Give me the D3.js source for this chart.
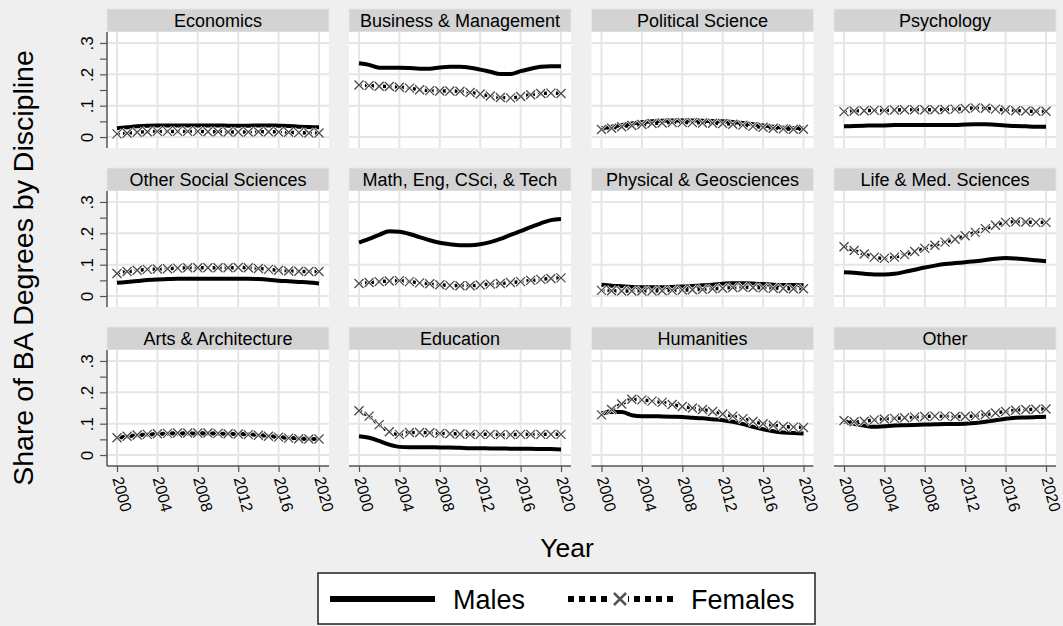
<!DOCTYPE html>
<html><head><meta charset="utf-8">
<script src="https://cdn.jsdelivr.net/npm/d3@7"></script>
<style>body{margin:0;background:#efefef;} text{font-family:"Liberation Sans",Arial,Helvetica,sans-serif;fill:#000;}</style>
</head><body><svg id="c" width="1063" height="626"></svg>
<script>
const years = [2000,2001,2002,2003,2004,2005,2006,2007,2008,2009,2010,2011,2012,2013,2014,2015,2016,2017,2018,2019,2020];
const disciplines = ["Economics","Business & Management","Political Science","Psychology",
  "Other Social Sciences","Math, Eng, CSci, & Tech","Physical & Geosciences","Life & Med. Sciences",
  "Arts & Architecture","Education","Humanities","Other"];
const yTickValues = [0,0.05,0.1,0.15,0.2,0.25,0.3];
const yTickLabels = ["0","",".1","",".2","",".3"];
const xTickValues = [2000,2004,2008,2012,2016,2020];

const econM = [0.028,0.031,0.034,0.036,0.037,0.037,0.037,0.037,0.037,0.037,0.037,0.036,0.036,0.036,0.037,0.037,0.036,0.035,0.033,0.032,0.031];
const econF = [0.010,0.012,0.015,0.017,0.018,0.018,0.018,0.018,0.018,0.017,0.017,0.016,0.016,0.016,0.017,0.017,0.016,0.015,0.014,0.013,0.013];
const busM  = [0.235,0.230,0.221,0.221,0.221,0.220,0.218,0.218,0.222,0.224,0.224,0.221,0.215,0.208,0.201,0.201,0.210,0.218,0.224,0.226,0.226];
const busF  = [0.166,0.164,0.162,0.161,0.159,0.156,0.151,0.148,0.147,0.147,0.146,0.142,0.137,0.131,0.126,0.125,0.129,0.135,0.139,0.140,0.139];
const polM  = [0.028,0.033,0.038,0.043,0.047,0.050,0.052,0.053,0.053,0.053,0.052,0.051,0.050,0.048,0.045,0.041,0.037,0.033,0.030,0.029,0.028];
const polF  = [0.024,0.028,0.033,0.037,0.040,0.043,0.045,0.046,0.046,0.046,0.045,0.044,0.043,0.041,0.038,0.034,0.031,0.028,0.026,0.025,0.025];
const psyM  = [0.034,0.035,0.036,0.037,0.037,0.038,0.038,0.038,0.038,0.038,0.038,0.038,0.040,0.041,0.041,0.039,0.037,0.035,0.034,0.033,0.033];
const psyF  = [0.081,0.083,0.084,0.085,0.085,0.086,0.087,0.087,0.087,0.087,0.088,0.089,0.091,0.093,0.092,0.089,0.086,0.084,0.083,0.082,0.082];
const ossM  = [0.042,0.045,0.048,0.051,0.053,0.054,0.055,0.055,0.055,0.055,0.055,0.055,0.055,0.055,0.054,0.052,0.049,0.047,0.045,0.043,0.040];
const ossF  = [0.072,0.078,0.082,0.085,0.086,0.087,0.089,0.090,0.090,0.090,0.090,0.090,0.091,0.090,0.088,0.085,0.082,0.080,0.079,0.078,0.078];
const mathM = [0.170,0.182,0.195,0.207,0.205,0.198,0.188,0.178,0.170,0.165,0.162,0.162,0.165,0.172,0.182,0.195,0.207,0.220,0.232,0.242,0.246];
const mathF = [0.040,0.043,0.046,0.048,0.049,0.046,0.042,0.039,0.036,0.034,0.033,0.033,0.035,0.038,0.040,0.043,0.046,0.050,0.053,0.056,0.058];
const physM = [0.036,0.033,0.031,0.029,0.028,0.028,0.028,0.029,0.030,0.032,0.034,0.036,0.039,0.041,0.041,0.040,0.038,0.036,0.035,0.035,0.034];
const physF = [0.018,0.017,0.016,0.016,0.016,0.016,0.017,0.018,0.019,0.020,0.021,0.023,0.025,0.027,0.028,0.027,0.026,0.025,0.024,0.023,0.023];
const lifeM = [0.076,0.074,0.071,0.069,0.069,0.071,0.077,0.084,0.091,0.097,0.102,0.105,0.108,0.111,0.115,0.119,0.121,0.120,0.117,0.114,0.111];
const lifeF = [0.157,0.145,0.134,0.124,0.120,0.124,0.132,0.142,0.152,0.162,0.172,0.181,0.192,0.203,0.215,0.226,0.235,0.237,0.236,0.235,0.235];
const artsM = [0.055,0.059,0.063,0.065,0.067,0.068,0.069,0.069,0.069,0.069,0.068,0.068,0.067,0.066,0.064,0.061,0.058,0.055,0.053,0.052,0.051];
const artsF = [0.055,0.060,0.064,0.066,0.068,0.069,0.070,0.070,0.070,0.070,0.069,0.068,0.067,0.065,0.063,0.060,0.057,0.054,0.052,0.051,0.051];
const eduM  = [0.060,0.055,0.045,0.033,0.026,0.025,0.025,0.025,0.024,0.024,0.023,0.022,0.022,0.021,0.021,0.020,0.020,0.020,0.019,0.019,0.018];
const eduF  = [0.141,0.124,0.097,0.074,0.066,0.072,0.072,0.071,0.069,0.068,0.067,0.066,0.066,0.066,0.065,0.065,0.066,0.066,0.066,0.066,0.066];
const humM  = [0.133,0.137,0.137,0.127,0.124,0.124,0.123,0.122,0.121,0.119,0.117,0.114,0.111,0.106,0.099,0.090,0.082,0.076,0.072,0.070,0.069];
const humF  = [0.128,0.145,0.163,0.178,0.176,0.172,0.168,0.161,0.155,0.150,0.145,0.139,0.131,0.124,0.116,0.107,0.100,0.095,0.091,0.089,0.088];
const othM  = [0.107,0.100,0.094,0.090,0.092,0.094,0.095,0.096,0.097,0.098,0.099,0.099,0.100,0.102,0.106,0.111,0.116,0.119,0.120,0.121,0.122];
const othF  = [0.110,0.106,0.108,0.112,0.115,0.117,0.119,0.121,0.123,0.124,0.124,0.123,0.123,0.125,0.129,0.134,0.139,0.143,0.145,0.146,0.147];

const maleSeries = [econM,busM,polM,psyM,ossM,mathM,physM,lifeM,artsM,eduM,humM,othM];
const femaleSeries = [econF,busF,polF,psyF,ossF,mathF,physF,lifeF,artsF,eduF,humF,othF];

const svg = d3.select("#c");
svg.append("rect").attr("width",1063).attr("height",626).attr("fill","#efefef");

const colX = [107, 349, 591.5, 834];
const rowY = [9, 168, 327];
const W = 222, stripH = 23, plotH = 116;
const gridCol = "#e6e6e6", axisCol = "#555";
const xPath = "M-4.5,-4.5L4.5,4.5M-4.5,4.5L4.5,-4.5";

disciplines.forEach((name, i) => {
  const c = i % 4, r = Math.floor(i / 4);
  const x0 = colX[c], top = rowY[r];
  const pt = top + stripH, pb = pt + plotH;
  const x = d3.scaleLinear().domain([1999.01, 2020.99]).range([x0, x0 + W]);
  const y = d3.scaleLinear().domain([-0.035, 0.335]).range([pb, pt]);
  const g = svg.append("g");

  // strip
  g.append("rect").attr("x", x0).attr("y", top).attr("width", W).attr("height", stripH)
    .attr("fill", "#d3d3d3").attr("stroke", "#dfe8ec").attr("stroke-width", 1);
  g.append("text").attr("x", x0 + W / 2).attr("y", top + 18).attr("text-anchor", "middle")
    .attr("font-size", 18).text(name);

  // plot area
  g.append("rect").attr("x", x0).attr("y", pt).attr("width", W).attr("height", plotH).attr("fill", "#fff");
  g.selectAll(".hg").data([0, 0.1, 0.2, 0.3]).join("line")
    .attr("x1", x0).attr("x2", x0 + W).attr("y1", d => y(d)).attr("y2", d => y(d))
    .attr("stroke", gridCol).attr("stroke-width", 2);
  g.selectAll(".vg").data(xTickValues).join("line")
    .attr("x1", d => x(d)).attr("x2", d => x(d)).attr("y1", pt).attr("y2", pb)
    .attr("stroke", gridCol).attr("stroke-width", 2);

  // axes
  if (c === 0) {
    const ax = g.append("g").attr("transform", `translate(${x0},0)`)
      .call(d3.axisLeft(y).tickValues(yTickValues).tickSize(7).tickPadding(8)
        .tickFormat((d, k) => yTickLabels[k]));
    ax.select(".domain").attr("stroke", axisCol).attr("stroke-width", 1.5).attr("d", `M0,${pt}V${pb}`);
    ax.selectAll(".tick line").attr("stroke", axisCol).attr("stroke-width", 1.2);
    ax.selectAll(".tick text").attr("font-size", 17).attr("fill", "#000")
      .attr("text-anchor", "middle").attr("dy", null)
      .attr("transform", "translate(-20,0) rotate(-90)")
      .attr("x", 0).attr("y", 0).attr("dominant-baseline", "central");
  }
  if (r === 2) {
    const ax = g.append("g").attr("transform", `translate(0,${pb})`)
      .call(d3.axisBottom(x).tickValues(xTickValues).tickSize(6).tickFormat(d3.format("d")));
    ax.select(".domain").attr("stroke", axisCol).attr("stroke-width", 1.5).attr("d", `M${x0},0H${x0 + W}`);
    ax.selectAll(".tick line").attr("stroke", axisCol).attr("stroke-width", 1.2);
    ax.selectAll(".tick text").attr("font-size", 16).attr("fill", "#000")
      .attr("text-anchor", "start").attr("dy", null).attr("y", 0).attr("x", 0)
      .attr("dominant-baseline", "central")
      .attr("transform", "translate(0,11) rotate(75)");
  }

  // series
  const mData = years.map((yr, k) => [yr, maleSeries[i][k]]);
  const fData = years.map((yr, k) => [yr, femaleSeries[i][k]]);
  const line = d3.line().x(d => x(d[0])).y(d => y(d[1])).curve(d3.curveMonotoneX);
  g.append("path").attr("d", line(mData)).attr("fill", "none").attr("stroke", "#000")
    .attr("stroke-width", 4).attr("stroke-linejoin", "round");
  g.append("path").attr("d", line(fData)).attr("fill", "none").attr("stroke", "#000")
    .attr("stroke-width", 3.5).attr("stroke-dasharray", "3,3");
  const mk = g.selectAll(".mk").data(fData).join("g")
    .attr("transform", d => `translate(${x(d[0])},${y(d[1])})`);
  mk.append("path").attr("d", xPath).attr("stroke", "#fff").attr("stroke-width", 2.6).attr("fill", "none");
  mk.append("path").attr("d", xPath).attr("stroke", "#4a4a4a").attr("stroke-width", 1.3).attr("fill", "none");
});

// axis titles
svg.append("text").attr("transform", "translate(33,268) rotate(-90)").attr("text-anchor", "middle")
  .attr("font-size", 28.5).text("Share of BA Degrees by Discipline");
svg.append("text").attr("x", 567).attr("y", 557).attr("text-anchor", "middle")
  .attr("font-size", 26.5).text("Year");

// legend
const lg = svg.append("g");
lg.append("rect").attr("x", 318).attr("y", 573).attr("width", 497).attr("height", 51)
  .attr("fill", "#fff").attr("stroke", "#222").attr("stroke-width", 1.5);
lg.append("line").attr("x1", 330).attr("x2", 435).attr("y1", 599).attr("y2", 599)
  .attr("stroke", "#000").attr("stroke-width", 6);
lg.append("text").attr("x", 453).attr("y", 609).attr("font-size", 27).text("Males");
lg.append("line").attr("x1", 568).attr("x2", 673).attr("y1", 599).attr("y2", 599)
  .attr("stroke", "#000").attr("stroke-width", 6).attr("stroke-dasharray", "6,5");
lg.append("rect").attr("x", 612).attr("y", 590).attr("width", 16).attr("height", 18).attr("fill", "#fff");
lg.append("path").attr("transform", "translate(620,599)").attr("d", "M-6,-6L6,6M-6,6L6,-6")
  .attr("stroke", "#555").attr("stroke-width", 2.5).attr("fill", "none");
lg.append("text").attr("x", 691).attr("y", 609).attr("font-size", 27).text("Females");
</script></body></html>
